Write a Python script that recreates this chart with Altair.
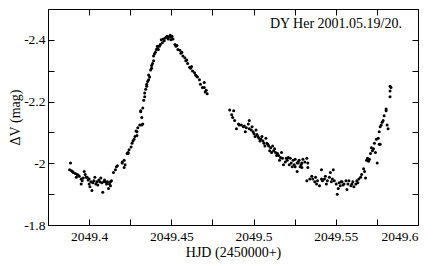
import altair as alt
import pandas as pd

# ---- data (HJD - 2450000, Delta V in mag) ----
hjd_min1 = [2049.3887, 2049.3881, 2049.3893, 2049.3904, 2049.3916, 2049.3928, 2049.3922, 2049.3940, 2049.3952, 2049.3952,
            2049.3970, 2049.3976, 2049.3982, 2049.3988, 2049.3994, 2049.4000, 2049.4000, 2049.4011, 2049.4017, 2049.4005,
            2049.4023, 2049.4029, 2049.4035, 2049.4041, 2049.4047, 2049.4053, 2049.4065, 2049.4071, 2049.4077, 2049.4083,
            2049.4089, 2049.4100, 2049.4106, 2049.4112, 2049.4118, 2049.4124, 2049.4130, 2049.4136, 2049.4130,
            2049.3899, 2049.3934, 2049.3964, 2049.4059, 2049.4094, 2049.3958]
dv_min1 = [-2.001, -1.979, -1.976, -1.970, -1.967, -1.964, -1.955, -1.958, -1.949, -1.933,
           -1.973, -1.964, -1.955, -1.955, -1.946, -1.949, -1.933, -1.940, -1.912, -1.924,
           -1.937, -1.943, -1.955, -1.933, -1.940, -1.930, -1.940, -1.952, -1.937, -1.906,
           -1.940, -1.940, -1.933, -1.940, -1.918, -1.933, -1.940, -1.943, -1.927,
           -1.973, -1.961, -1.952, -1.946, -1.946, -1.943]

hjd_rise1 = [2049.4148, 2049.4160, 2049.4166, 2049.4172, 2049.4201, 2049.4201, 2049.4213, 2049.4219, 2049.4213, 2049.4231,
             2049.4237, 2049.4237, 2049.4255, 2049.4261, 2049.4273, 2049.4279, 2049.4291, 2049.4291, 2049.4296, 2049.4308,
             2049.4320, 2049.4326, 2049.4320, 2049.4314, 2049.4314, 2049.4332, 2049.4338, 2049.4344, 2049.4350, 2049.4350,
             2049.4356, 2049.4362, 2049.4368, 2049.4374, 2049.4380, 2049.4380, 2049.4392, 2049.4392, 2049.4397, 2049.4403,
             2049.4409, 2049.4415, 2049.4415, 2049.4285, 2049.4243, 2049.4267, 2049.4326, 2049.4338, 2049.4362, 2049.4386]
dv_rise1 = [-1.970, -1.979, -1.989, -1.992, -2.001, -2.004, -2.010, -1.995, -1.986, -2.032,
            -2.035, -2.032, -2.053, -2.065, -2.078, -2.087, -2.090, -2.102, -2.115, -2.124,
            -2.124, -2.127, -2.148, -2.170, -2.167, -2.204, -2.228, -2.240, -2.250, -2.256,
            -2.265, -2.271, -2.280, -2.302, -2.308, -2.317, -2.332, -2.348, -2.354, -2.360,
            -2.369, -2.372, -2.379, -2.105, -2.044, -2.072, -2.179, -2.216, -2.286, -2.323]

hjd_peak = [2049.4421, 2049.4433, 2049.4439, 2049.4451, 2049.4463, 2049.4475, 2049.4493, 2049.4498, 2049.4510, 2049.4498,
            2049.4481, 2049.4457, 2049.4469, 2049.4487, 2049.4504, 2049.4427, 2049.4445]
dv_peak = [-2.369, -2.385, -2.400, -2.403, -2.406, -2.412, -2.415, -2.409, -2.403, -2.400,
           -2.403, -2.397, -2.409, -2.409, -2.412, -2.379, -2.391]

hjd_desc = [2049.4522, 2049.4528, 2049.4540, 2049.4534, 2049.4558, 2049.4570, 2049.4582, 2049.4588, 2049.4599, 2049.4611,
            2049.4617, 2049.4629, 2049.4641, 2049.4647, 2049.4659, 2049.4671, 2049.4677, 2049.4689, 2049.4700, 2049.4700,
            2049.4706, 2049.4718, 2049.4712, 2049.4564, 2049.4594, 2049.4623, 2049.4653, 2049.4552]
dv_desc = [-2.385, -2.379, -2.369, -2.382, -2.357, -2.348, -2.342, -2.332, -2.323, -2.311,
           -2.308, -2.299, -2.293, -2.286, -2.280, -2.271, -2.256, -2.246, -2.262, -2.246,
           -2.231, -2.225, -2.237, -2.360, -2.335, -2.314, -2.283, -2.366]

hjd_dec2 = [2049.4855, 2049.4879, 2049.4867, 2049.4873, 2049.4885, 2049.4896, 2049.4908, 2049.4914, 2049.4926, 2049.4938,
            2049.4944, 2049.4956, 2049.4968, 2049.4974, 2049.4974, 2049.4986, 2049.4997, 2049.5003, 2049.5015, 2049.5021,
            2049.5027, 2049.5033, 2049.5045, 2049.5051, 2049.5057, 2049.5063, 2049.5075, 2049.5087, 2049.5092, 2049.5104,
            2049.5116, 2049.5122, 2049.5134, 2049.5146, 2049.5152, 2049.5164, 2049.5176, 2049.5182, 2049.5193, 2049.5205,
            2049.5211, 2049.5223, 2049.5229, 2049.5235, 2049.5241, 2049.5253, 2049.5265, 2049.5271, 2049.5277, 2049.5289,
            2049.5294, 2049.5253, 2049.5265, 2049.5271, 2049.5283, 2049.5294, 2049.5300, 2049.5312, 2049.5324, 2049.5330,
            2049.5330,
            2049.4950, 2049.5009, 2049.5069, 2049.5098, 2049.5128, 2049.5158, 2049.5170, 2049.5199, 2049.5217, 2049.5247,
            2049.4991, 2049.5039, 2049.5081, 2049.5110, 2049.5140]
dv_dec2 = [-2.173, -2.170, -2.157, -2.148, -2.139, -2.112, -2.127, -2.124, -2.124, -2.118,
           -2.121, -2.115, -2.127, -2.139, -2.112, -2.108, -2.102, -2.096, -2.108, -2.093,
           -2.087, -2.081, -2.078, -2.087, -2.072, -2.065, -2.081, -2.062, -2.056, -2.050,
           -2.056, -2.041, -2.035, -2.032, -2.025, -2.019, -2.016, -1.995, -2.004, -2.010,
           -2.019, -2.016, -2.001, -1.989, -2.010, -1.989, -1.973, -2.001, -2.010, -1.995,
           -1.986, -2.013, -2.001, -2.004, -1.989, -2.001, -2.013, -2.004, -2.016, -2.001,
           -1.986,
           -2.102, -2.087, -2.056, -2.041, -2.047, -2.010, -2.035, -2.016, -1.995, -1.995,
           -2.118, -2.072, -2.065, -2.035, -2.025]

hjd_min2 = [2049.5324, 2049.5342, 2049.5354, 2049.5360, 2049.5372, 2049.5389, 2049.5401, 2049.5413, 2049.5413, 2049.5419,
            2049.5431, 2049.5443, 2049.5449, 2049.5461, 2049.5467, 2049.5473, 2049.5485, 2049.5491, 2049.5503, 2049.5509,
            2049.5515, 2049.5527, 2049.5533, 2049.5538, 2049.5550, 2049.5562, 2049.5568, 2049.5580, 2049.5592, 2049.5598,
            2049.5610, 2049.5622, 2049.5628, 2049.5640, 2049.5651, 2049.5657,
            2049.5383, 2049.5437, 2049.5479, 2049.5521, 2049.5544, 2049.5574, 2049.5604, 2049.5634, 2049.5377]
dv_min2 = [-1.943, -1.949, -1.958, -1.949, -1.940, -1.943, -1.927, -1.949, -1.979, -1.943,
           -1.949, -1.933, -1.943, -1.955, -1.970, -1.940, -1.979, -1.943, -1.933, -1.900,
           -1.918, -1.927, -1.940, -1.940, -1.933, -1.943, -1.915, -1.943, -1.927, -1.933,
           -1.924, -1.933, -1.943, -1.949, -1.955, -1.964,
           -1.933, -1.958, -1.949, -1.937, -1.930, -1.933, -1.940, -1.937, -1.955]

hjd_rise2 = [2049.5669, 2049.5681, 2049.5687, 2049.5693, 2049.5705, 2049.5711, 2049.5717, 2049.5729, 2049.5735, 2049.5741,
             2049.5747, 2049.5752, 2049.5758, 2049.5764, 2049.5770, 2049.5764, 2049.5770, 2049.5776, 2049.5788, 2049.5794,
             2049.5806, 2049.5806, 2049.5818, 2049.5812, 2049.5830, 2049.5830, 2049.5836, 2049.5830,
             2049.5675, 2049.5723, 2049.5782, 2049.5699]
dv_rise2 = [-1.982, -1.952, -2.010, -2.016, -2.013, -2.032, -2.050, -2.047, -2.065, -2.035,
            -2.078, -2.001, -2.081, -2.062, -2.062, -2.102, -2.118, -2.124, -2.139, -2.154,
            -2.170, -2.176, -2.112, -2.124, -2.234, -2.250, -2.246, -2.216,
            -1.973, -2.041, -2.133, -2.007]

x_ticks = [2049.375, 2049.4, 2049.425, 2049.45, 2049.475, 2049.5, 2049.525, 2049.55, 2049.575, 2049.6]
y_ticks = [-2.5, -2.4, -2.3, -2.2, -2.1, -2.0, -1.9, -1.8]
x_domain = [2049.375, 2049.6]
y_domain = [-2.5, -1.8]
title_text = "DY Her 2001.05.19/20."
x_title = "HJD (2450000+)"
y_title = "ΔV (mag)"

segments = [(hjd_min1, dv_min1), (hjd_rise1, dv_rise1), (hjd_peak, dv_peak), (hjd_desc, dv_desc),
            (hjd_dec2, dv_dec2), (hjd_min2, dv_min2), (hjd_rise2, dv_rise2)]
hjd, dv = [], []
for h, d in segments:
    assert len(h) == len(d), (len(h), len(d))
    hjd += h
    dv += d
df = pd.DataFrame({"hjd": hjd, "dv": dv})

FONT = "Liberation Serif"
TICK = 6
W, H = 370, 216

xscale = alt.Scale(domain=x_domain, nice=False, zero=False)
yscale = alt.Scale(domain=y_domain, nice=False, zero=False, reverse=True)

x_lab = "round(datum.value*1000) % 50 == 0 ? toString(datum.value) : ''"
y_lab = "abs(round(datum.value*10)) % 2 == 0 ? toString(datum.value) : ''"

pts = alt.Chart(df).mark_circle(size=9, color="black", opacity=1).encode(
    x=alt.X("hjd:Q", scale=xscale, title=x_title,
            axis=alt.Axis(orient="bottom", values=x_ticks, labelExpr=x_lab, offset=-TICK,
                          tickSize=TICK, labelPadding=4, titlePadding=3)),
    y=alt.Y("dv:Q", scale=yscale, title=y_title,
            axis=alt.Axis(orient="left", values=y_ticks, labelExpr=y_lab, offset=-TICK,
                          tickSize=TICK, labelPadding=3, titlePadding=1)),
)

frame_ticks = alt.Chart(df).mark_circle(size=9, color="black", opacity=0).encode(
    x=alt.X("hjd:Q", scale=xscale, title=None,
            axis=alt.Axis(orient="top", values=x_ticks, labels=False, offset=-TICK, tickSize=TICK)),
    y=alt.Y("dv:Q", scale=yscale, title=None,
            axis=alt.Axis(orient="right", values=y_ticks, labels=False, offset=-TICK, tickSize=TICK)),
)

label = alt.Chart(pd.DataFrame({"t": [title_text]})).mark_text(
    align="right", baseline="alphabetic", font=FONT, fontSize=14, color="black"
).encode(text="t:N", x=alt.value(W - 16), y=alt.value(19))

chart = alt.layer(pts, frame_ticks, label).resolve_axis(
    x="independent", y="independent"
).properties(
    width=W, height=H, background="white",
    padding={"left": 0, "top": 0, "right": 0, "bottom": 0}
).configure_view(
    stroke="black", strokeWidth=1
).configure_axis(
    domain=False, grid=False, tickColor="black", tickWidth=1,
    labelColor="black", titleColor="black", labelFont=FONT, titleFont=FONT,
    labelFontSize=13.5, titleFontSize=14, titleFontWeight="normal"
)

chart.save("out.html", embed_options={"renderer": "svg", "actions": False})
